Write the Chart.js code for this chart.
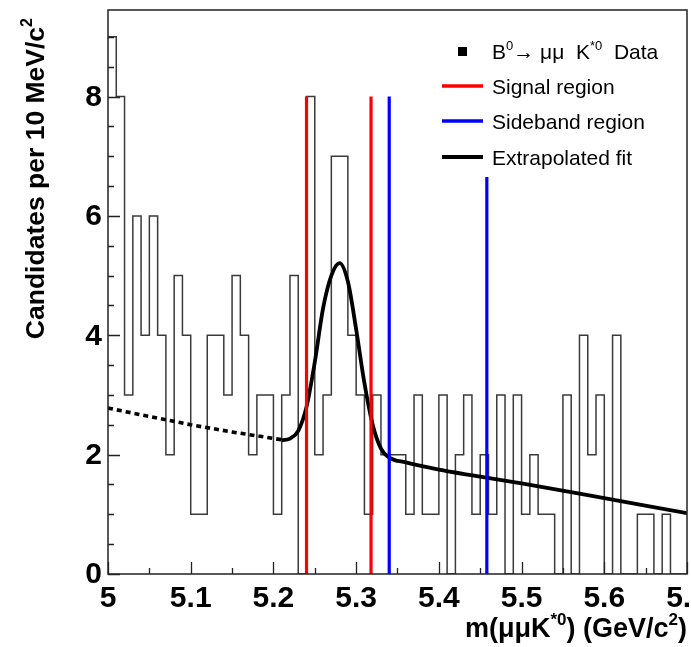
<!DOCTYPE html>
<html lang="en">
<head>
    <meta charset="UTF-8">
    <title>B0 -> mu mu K*0 candidates</title>
    <script src="https://cdn.jsdelivr.net/npm/chart.js"></script>
    <style>
        html, body { margin: 0; padding: 0; background: #fff; }
    </style>
</head>
<body>
<canvas id="myChart" width="691" height="647"></canvas>
<script>
    // histogram: 10 MeV bins from 5.00 to 5.70 GeV
    const binStart = 5.0;
    const binWidth = 0.01;
    const counts = [
        9, 8, 3, 6, 4, 6, 4, 2, 5, 4,
        1, 1, 4, 4, 3, 5, 4, 2, 3, 3,
        1, 3, 5, 0, 8, 2, 3, 7, 7, 4,
        3, 1, 3, 2, 2, 2, 1, 3, 1, 1,
        3, 0, 2, 3, 1, 2, 1, 3, 0, 3,
        1, 2, 1, 1, 0, 3, 0, 4, 2, 3,
        0, 4, 0, 0, 1, 1, 0, 1, 0, 0
    ];

    // fit curve
    const fitDashedX = [5.00, 5.05, 5.10, 5.15, 5.21];
    const fitDashedY = [2.78, 2.64, 2.50, 2.38, 2.25];
    const fitSolidX = [5.21, 5.22, 5.23, 5.24, 5.25, 5.26, 5.27, 5.28, 5.29, 5.30, 5.31, 5.32, 5.33, 5.34, 5.36, 5.40, 5.50, 5.60, 5.70];
    const fitSolidY = [2.24, 2.27, 2.40, 2.80, 3.55, 4.45, 5.00, 5.21, 4.90, 4.10, 3.20, 2.50, 2.10, 1.95, 1.87, 1.75, 1.52, 1.27, 1.02];

    // region boundaries
    const signalX = [5.24, 5.318];
    const signalTop = [8, 8];
    const sidebandX = [5.34, 5.458];
    const sidebandTop = [8, 6.65];

    // axes
    const xMajorTicks = [5.0, 5.1, 5.2, 5.3, 5.4, 5.5, 5.6, 5.7];
    const xTickLabels = ['5', '5.1', '5.2', '5.3', '5.4', '5.5', '5.6', '5.7'];
    const xMinorTicks = [5.05, 5.15, 5.25, 5.35, 5.45, 5.55, 5.65];
    const yMajorTicks = [0, 2, 4, 6, 8];
    const yTickLabels = ['0', '2', '4', '6', '8'];
    const yMinorTicks = [0.5, 1, 1.5, 2.5, 3, 3.5, 4.5, 5, 5.5, 6.5, 7, 7.5, 8.5, 9];

    const FONT = '"Liberation Sans", Arial, Helvetica, sans-serif';

    function histPoints() {
        let pts = counts.map((c, i) => ({x: binStart + i * binWidth, y: c}));
        pts.push({x: binStart + counts.length * binWidth, y: counts[counts.length - 1]});
        return pts;
    }

    function xy(xs, ys) {
        return xs.map((x, i) => ({x: x, y: ys[i]}));
    }

    function vline(x, top, color) {
        return {
            data: [{x: x, y: 0}, {x: x, y: top}],
            borderColor: color,
            borderWidth: 3.2,
            pointRadius: 0,
            fill: false
        };
    }

    // text with superscripts, parts = [[text, isSup], ...]
    function richText(ctx, parts, x, y, size, weight, align) {
        let supSize = Math.round(size * 0.62);
        let total = 0;
        parts.forEach(p => {
            ctx.font = weight + ' ' + (p[1] ? supSize : size) + 'px ' + FONT;
            total += ctx.measureText(p[0]).width;
        });
        let cx = align === 'right' ? x - total : x;
        ctx.textAlign = 'left';
        ctx.textBaseline = 'alphabetic';
        parts.forEach(p => {
            ctx.font = weight + ' ' + (p[1] ? supSize : size) + 'px ' + FONT;
            ctx.fillText(p[0], cx, p[1] ? y - size * 0.45 : y);
            cx += ctx.measureText(p[0]).width;
        });
    }

    const decor = {
        id: 'decor',
        afterDatasetsDraw(chart) {
            const ctx = chart.ctx;
            const a = chart.chartArea;
            const xs = chart.scales.x;
            const ys = chart.scales.y;
            ctx.save();
            ctx.strokeStyle = '#222';
            ctx.lineWidth = 1.5;
            ctx.strokeRect(a.left, a.top, a.right - a.left, a.bottom - a.top);

            ctx.lineWidth = 1.3;
            ctx.beginPath();
            xMajorTicks.forEach(v => {
                let p = Math.round(xs.getPixelForValue(v)) + 0.5;
                ctx.moveTo(p, a.bottom); ctx.lineTo(p, a.bottom - 12);
            });
            xMinorTicks.forEach(v => {
                let p = Math.round(xs.getPixelForValue(v)) + 0.5;
                ctx.moveTo(p, a.bottom); ctx.lineTo(p, a.bottom - 6);
            });
            yMajorTicks.forEach(v => {
                let p = Math.round(ys.getPixelForValue(v)) + 0.5;
                ctx.moveTo(a.left, p); ctx.lineTo(a.left + 12, p);
            });
            yMinorTicks.forEach(v => {
                let p = Math.round(ys.getPixelForValue(v)) + 0.5;
                ctx.moveTo(a.left, p); ctx.lineTo(a.left + 6, p);
            });
            ctx.stroke();

            ctx.fillStyle = '#000';
            ctx.font = 'bold 30px ' + FONT;
            ctx.textAlign = 'center';
            ctx.textBaseline = 'alphabetic';
            xMajorTicks.forEach((v, i) => {
                ctx.fillText(xTickLabels[i], xs.getPixelForValue(v), a.bottom + 33);
            });
            ctx.textAlign = 'right';
            ctx.textBaseline = 'middle';
            yMajorTicks.forEach((v, i) => {
                ctx.fillText(yTickLabels[i], a.left - 6, ys.getPixelForValue(v) + 1);
            });

            // axis titles
            richText(ctx, [['m(\u03bc\u03bcK', false], ['*0', true], [') (GeV/c', false], ['2', true], [')', false]],
                a.right, 637, 27, 'bold', 'right');
            ctx.save();
            ctx.translate(44, a.top + 8);
            ctx.rotate(-Math.PI / 2);
            richText(ctx, [['Candidates per 10 MeV/c', false], ['2', true]], 0, 0, 26.5, 'bold', 'right');
            ctx.restore();

            // legend
            const rows = [51, 86, 121, 157];
            const lx = 442, tx = 492;
            ctx.fillStyle = '#000';
            ctx.fillRect(458, rows[0] - 4, 9, 9);
            [['#ff0000', 3.5], ['#0000ff', 3.5], ['#000', 4]].forEach((s, i) => {
                ctx.strokeStyle = s[0];
                ctx.lineWidth = s[1];
                ctx.beginPath();
                ctx.moveTo(lx, rows[i + 1]);
                ctx.lineTo(lx + 41, rows[i + 1]);
                ctx.stroke();
            });
            ctx.fillStyle = '#000';
            richText(ctx, [['B', false], ['0', true], ['\u2192 \u03bc\u03bc  K', false], ['*0', true], ['  Data', false]],
                tx, rows[0] + 8, 21, 'normal', 'left');
            richText(ctx, [['Signal region', false]], tx, rows[1] + 8, 21, 'normal', 'left');
            richText(ctx, [['Sideband region', false]], tx, rows[2] + 8, 21, 'normal', 'left');
            richText(ctx, [['Extrapolated fit', false]], tx, rows[3] + 8, 21, 'normal', 'left');
            ctx.restore();
        }
    };

    function init() {
        let ctx = document.getElementById('myChart').getContext('2d');
        new Chart(ctx, {
            type: 'line',
            data: {
                datasets: [
                    vline(signalX[0], signalTop[0], '#ff0000'),
                    vline(signalX[1], signalTop[1], '#ff0000'),
                    vline(sidebandX[0], sidebandTop[0], '#0000ff'),
                    vline(sidebandX[1], sidebandTop[1], '#0000ff'),
                    {
                        label: 'Extrapolated fit',
                        data: xy(fitSolidX, fitSolidY),
                        borderColor: '#000',
                        borderWidth: 3.8,
                        cubicInterpolationMode: 'monotone',
                        pointRadius: 0,
                        fill: false
                    },
                    {
                        label: 'fit (extrapolated)',
                        data: xy(fitDashedX, fitDashedY),
                        borderColor: '#000',
                        borderWidth: 3.6,
                        borderDash: [5, 4],
                        pointRadius: 0,
                        fill: false
                    },
                    {
                        label: 'Data',
                        data: histPoints(),
                        borderColor: '#3a3a3a',
                        borderWidth: 1.5,
                        // horizontal across the bin first, then the vertical edge
                        stepped: 'before',
                        pointRadius: 0,
                        fill: false
                    }
                ]
            },
            options: {
                responsive: false,
                animation: false,
                layout: {padding: {left: 108, top: 10, right: 4, bottom: 73}},
                scales: {
                    x: {type: 'linear', min: 5.0, max: 5.7, display: false},
                    y: {type: 'linear', min: 0, max: 9.45, display: false}
                },
                plugins: {
                    legend: {display: false},
                    tooltip: {enabled: false}
                }
            },
            plugins: [decor]
        });
    }

    document.addEventListener('DOMContentLoaded', init);
</script>
</body>
</html>
